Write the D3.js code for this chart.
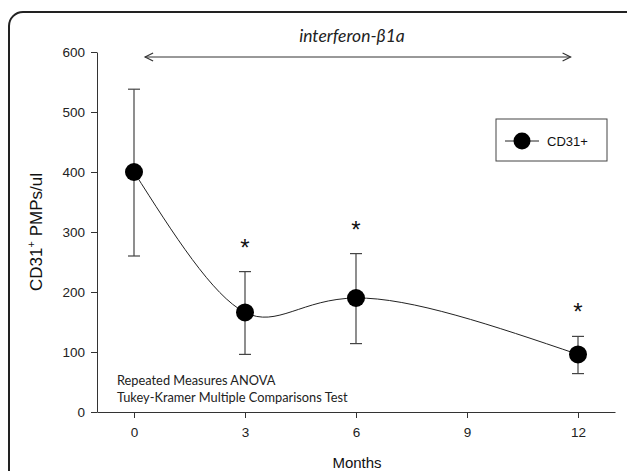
<!DOCTYPE html>
<html><head><meta charset="utf-8">
<script src="https://cdn.jsdelivr.net/npm/d3@7"></script>
<style>body{margin:0;background:#fff}svg{display:block}</style>
</head><body>
<script>
const months = [0, 3, 6, 12];
const means = [400, 166, 190, 96];
const upper = [538, 234, 264, 126];
const lower = [260, 96, 114, 64];
const significant = [false, true, true, true];
const yTicks = [0, 100, 200, 300, 400, 500, 600];
const xTicks = [0, 3, 6, 9, 12];
const seriesName = "CD31+";

const W = 627, H = 471;
const svg = d3.select("body").append("svg").attr("width", W).attr("height", H);

// frame
svg.append("rect").attr("x", 9).attr("y", 12).attr("width", 640).attr("height", 480)
  .attr("rx", 14).attr("fill", "none").attr("stroke", "#222").attr("stroke-width", 2);

const x = d3.scaleLinear().domain([-1, 13]).range([97, 615]);
const y = d3.scaleLinear().domain([0, 600]).range([412, 52]);

const font = "Arial, 'Liberation Sans', sans-serif";

// y axis
const ya = svg.append("g").attr("transform", "translate(97,0)")
  .call(d3.axisLeft(y).tickValues(yTicks).tickSize(6).tickPadding(6).tickSizeOuter(0));
ya.select(".domain").attr("stroke", "#333");
ya.selectAll(".tick line").attr("stroke", "#333");
ya.selectAll("text").attr("font-family", font).attr("font-size", 13.5).attr("fill", "#222");

// x axis
const xa = svg.append("g").attr("transform", "translate(0,412)")
  .call(d3.axisBottom(x).tickValues(xTicks).tickSize(6).tickPadding(9).tickSizeOuter(0));
xa.select(".domain").attr("stroke", "#333");
xa.selectAll(".tick line").attr("stroke", "#333");
xa.selectAll("text").attr("font-family", font).attr("font-size", 13.5).attr("fill", "#222");

// axis labels
const yl = svg.append("text").attr("transform", "translate(42,232) rotate(-90)")
  .attr("text-anchor", "middle").attr("font-family", font).attr("font-size", 17).attr("fill", "#111");
yl.append("tspan").text("CD31");
yl.append("tspan").text("+").attr("font-size", 11).attr("dy", -7);
yl.append("tspan").text(" PMPs/ul").attr("font-size", 17).attr("dy", 7);

svg.append("text").attr("x", 357).attr("y", 468).attr("text-anchor", "middle")
  .attr("font-family", font).attr("font-size", 15).attr("fill", "#111").text("Months");

// treatment arrow
const arrowY = 57;
svg.append("line").attr("x1", x(0.3)).attr("x2", x(11.8)).attr("y1", arrowY).attr("y2", arrowY)
  .attr("stroke", "#333").attr("stroke-width", 1);
[[x(0.3), 1], [x(11.8), -1]].forEach(([px, d]) => {
  svg.append("path").attr("d", `M${px + 8 * d},${arrowY - 4} L${px},${arrowY} L${px + 8 * d},${arrowY + 4}`)
    .attr("fill", "none").attr("stroke", "#333").attr("stroke-width", 1.2);
});
svg.append("text").attr("x", 352).attr("y", 42).attr("text-anchor", "middle")
  .attr("font-family", "Lato, 'Open Sans', sans-serif").attr("font-style", "italic")
  .attr("font-size", 17.5).attr("fill", "#222").text("interferon-β1a");

// stats note
const note = svg.append("g").attr("font-family", "Lato, 'Open Sans', sans-serif").attr("font-size", 12.8).attr("fill", "#222");
note.append("text").attr("x", 117).attr("y", 385).text("Repeated Measures ANOVA");
note.append("text").attr("x", 117).attr("y", 402).text("Tukey-Kramer Multiple Comparisons Test");

const data = months.map((m, i) => ({m, v: means[i], hi: upper[i], lo: lower[i], sig: significant[i]}));

// curve
svg.append("path").datum(data)
  .attr("d", d3.line().x(d => x(d.m)).y(d => y(d.v)).curve(d3.curveNatural))
  .attr("fill", "none").attr("stroke", "#222").attr("stroke-width", 1);

// error bars
const eb = svg.append("g").attr("stroke", "#444").attr("stroke-width", 1.2);
data.forEach(d => {
  eb.append("line").attr("x1", x(d.m)).attr("x2", x(d.m)).attr("y1", y(d.hi)).attr("y2", y(d.lo));
  [d.hi, d.lo].forEach(v => eb.append("line").attr("x1", x(d.m) - 6).attr("x2", x(d.m) + 6)
    .attr("y1", y(v)).attr("y2", y(v)));
});

// points
svg.append("g").selectAll("circle").data(data).join("circle")
  .attr("cx", d => x(d.m)).attr("cy", d => y(d.v)).attr("r", 9).attr("fill", "#000");

// asterisks
svg.append("g").selectAll("text").data(data.filter(d => d.sig)).join("text")
  .attr("x", d => x(d.m)).attr("y", d => y(d.hi) - 16).attr("text-anchor", "middle")
  .attr("font-family", font).attr("font-size", 24).attr("fill", "#111").text("*");

// legend
const lg = svg.append("g");
lg.append("rect").attr("x", 496).attr("y", 119).attr("width", 111).attr("height", 42)
  .attr("fill", "#fff").attr("stroke", "#444").attr("stroke-width", 1);
lg.append("line").attr("x1", 505).attr("x2", 539).attr("y1", 141).attr("y2", 141).attr("stroke", "#222");
lg.append("circle").attr("cx", 522).attr("cy", 141).attr("r", 8.5).attr("fill", "#000");
lg.append("text").attr("x", 547).attr("y", 146).attr("font-family", font).attr("font-size", 13)
  .attr("fill", "#111").text(seriesName);
</script>
</body></html>
